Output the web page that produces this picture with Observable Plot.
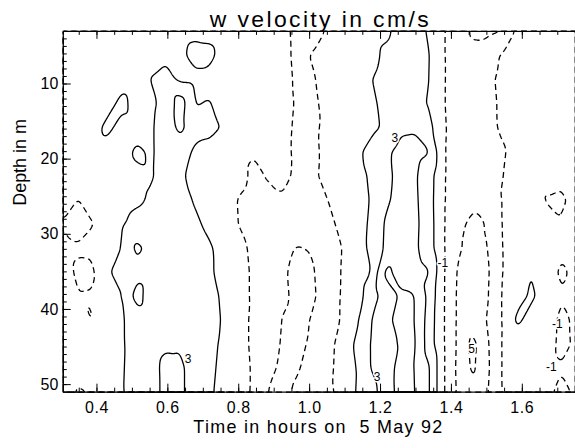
<!DOCTYPE html>
<html>
<head>
<meta charset="utf-8">
<script src="https://cdn.jsdelivr.net/npm/d3@7"></script>
<script src="https://cdn.jsdelivr.net/npm/@observablehq/plot@0.6"></script>
<style>
  html, body { margin: 0; padding: 0; background: #fff; overflow: hidden; }
  svg text { font-family: "Liberation Sans", Arial, Helvetica, sans-serif; }
</style>
</head>
<body>
<div id="chart"></div>
<script>
// ---- chart texts ----
const titleText = "w velocity in cm/s";
const xTitle = "Time in hours on  5 May 92";
const yTitle = "Depth in m";

// ---- axis extents and tick labels ----
const timeExtent = [0.305, 1.75];     // hours
const depthExtent = [3, 51];          // m
const xTickLabels = [0.4, 0.6, 0.8, 1.0, 1.2, 1.4, 1.6];
const yTickLabels = [10, 20, 30, 40, 50];

// ---- contour levels (cm/s) ----
const positiveLevels = [1, 3, 5];
const negativeLevels = [-5, -3, -1];

// ---- w velocity grid (cm/s) ----
// 16 depth rows (top to bottom) x 36 time columns (left to right), evenly spread over the frame
const wRows = [
  [0.2, 0.1, 0.0, 0.1, 0.2, 0.3, 0.4, 0.4, 0.4, 0.6, 0.6, 0.3, 0.1, -1.15, -0.2, -0.6, -1.4, -1.6, -0.9, -0.2, 0.1, 0.3, 0.6, 1.6, 1.7, 0.8, -0.9, -2.0, -3.3, -3.4, -3.05, -0.6, -0.3, -0.2, -0.1, 0.0],
  [0.3, 0.2, 0.1, 0.0, 0.2, 0.3, 0.5, 0.6, 0.6, 1.6, 1.4, 0.3, 0.0, -0.3, -0.3, -0.5, -1.4, -0.95, -0.3, 0.0, 0.2, 0.3, 1.4, 1.9, 1.8, 1.1, -0.9, -2.2, -2.4, -1.8, -0.8, -0.4, -0.2, -0.1, 0.0, 0.1],
  [0.2, 0.1, 0.0, 0.2, 0.4, 0.2, 1.05, 1.7, 0.6, 0.5, 0.5, 0.2, 0.0, -0.2, -0.3, -0.4, -1.3, -1.2, -0.4, 0.0, 0.2, 0.9, 1.7, 1.9, 1.8, 1.05, -0.9, -2.0, -2.3, -1.4, -0.6, -0.3, -0.1, 0.0, 0.1, 0.1],
  [0.1, 0.0, 0.1, 0.3, 1.5, 0.3, 0.7, 1.5, 4.0, 0.9, 1.1, 0.3, -0.1, -1.05, -0.3, -0.4, -1.2, -1.4, -0.5, 0.0, 0.2, 0.6, 1.5, 1.9, 1.6, 0.85, -0.9, -2.1, -2.2, -1.5, -0.7, -0.3, -0.1, 0.0, 0.1, 0.0],
  [0.0, 0.1, 0.2, 1.5, 0.3, 0.4, 0.8, 1.8, 3.6, 1.6, 1.5, 0.8, 0.0, -0.3, -0.4, -0.5, -1.3, -1.3, -0.7, -0.1, 0.2, 0.5, 1.3, 2.7, 2.8, 1.6, -0.8, -2.0, -2.3, -1.6, -0.7, -0.3, -0.1, 0.0, 0.0, 0.1],
  [0.1, 0.2, 0.1, 0.2, 0.3, 1.3, 0.8, 1.7, 1.9, 0.7, 0.4, 1.05, -0.6, -0.9, -0.5, -0.6, -1.3, -1.4, -0.6, 0.0, 0.5, 1.6, 2.6, 3.5, 3.6, 3.1, -0.9, -2.0, -2.3, -1.7, -1.2, -0.4, -0.2, -0.1, 0.0, 0.0],
  [0.0, -0.2, 0.0, 0.1, 0.2, 0.6, 0.85, 1.6, 1.3, 0.4, 0.2, 0.0, -0.5, -1.3, -0.9, -0.5, -1.4, -1.3, -0.6, 0.0, 0.4, 1.2, 2.4, 3.6, 3.3, 1.9, -0.9, -2.0, -2.3, -1.6, -1.05, -0.4, -1.05, -0.3, -0.6, -0.2],
  [-0.2, -1.05, -0.3, 0.0, 0.3, 0.7, 1.2, 1.8, 1.6, 0.85, 0.2, -0.3, -1.1, -1.5, -1.4, -1.2, -1.6, -1.5, -1.05, -0.4, 0.3, 1.05, 2.6, 3.7, 3.4, 1.8, -0.9, -2.1, -2.6, -2.4, -0.9, -0.4, -0.2, -1.1, -1.3, -0.5],
  [-1.15, -1.8, -1.05, -0.2, 0.8, 1.6, 1.8, 2.0, 1.9, 1.3, 0.6, -0.3, -1.05, -1.6, -1.8, -1.7, -1.9, -1.8, -1.4, -0.7, 0.3, 1.2, 3.2, 3.9, 3.5, 1.9, -0.9, -2.6, -3.4, -2.9, -0.9, -0.3, 0.0, -0.4, -0.9, -0.3],
  [-0.5, -0.8, -0.7, 0.2, 1.05, 3.5, 2.4, 2.1, 2.0, 1.8, 1.2, 0.3, -0.6, -1.3, -2.0, -2.6, -3.1, -2.9, -2.0, -1.05, 0.2, 1.3, 3.3, 4.3, 3.4, 1.9, -0.9, -2.9, -3.3, -3.1, -0.95, -0.2, 0.0, -0.9, -0.7, -0.3],
  [-0.3, -1.3, -1.3, 0.8, 1.6, 2.4, 2.2, 1.9, 1.9, 1.7, 1.2, 0.5, -0.5, -1.2, -1.9, -2.8, -3.4, -3.2, -2.1, -0.95, 0.1, 0.9, 5.4, 4.5, 3.8, 3.1, -0.9, -3.3, -3.6, -3.3, -0.95, -0.3, 1.05, -0.2, -1.25, -0.7],
  [-0.2, -0.95, -0.9, 0.3, 0.95, 3.8, 2.0, 1.8, 1.8, 1.9, 1.5, 0.7, -0.5, -1.2, -1.9, -2.7, -3.4, -3.3, -2.2, -0.9, 0.2, 1.8, 4.0, 5.2, 5.1, 2.4, -0.9, -3.4, -3.9, -3.2, -0.85, 0.3, 1.3, 0.2, -0.9, -0.5],
  [0.0, -0.4, -1.1, 0.1, 0.8, 1.9, 2.0, 2.2, 2.1, 1.9, 1.6, 0.8, -0.4, -1.3, -2.1, -3.1, -3.5, -2.9, -1.9, -0.9, 0.6, 2.9, 4.3, 5.8, 5.1, 2.1, -0.9, -3.4, -4.2, -2.9, -0.9, 1.4, 0.3, -0.2, -1.3, -0.8],
  [0.1, 0.0, -0.3, 0.2, 0.8, 1.8, 2.1, 2.7, 2.8, 2.0, 1.4, 0.7, -0.4, -1.3, -2.2, -3.2, -3.3, -2.8, -1.8, -0.3, 1.25, 3.05, 4.6, 5.1, 5.3, 2.0, -0.9, -3.4, -5.6, -3.2, -0.85, 0.2, 0.1, -0.2, -1.4, -0.8],
  [0.2, -0.3, -0.2, 0.1, 0.85, 1.7, 2.2, 3.6, 3.4, 2.0, 1.3, 0.6, -0.3, -1.2, -2.5, -3.4, -3.1, -2.6, -1.7, -0.2, 0.95, 3.05, 4.0, 5.6, 5.05, 3.2, -0.9, -3.5, -5.4, -3.3, -0.85, 0.1, -0.1, -0.4, -0.9, -0.6],
  [-0.2, -1.2, -0.9, -1.1, 0.9, 1.6, 2.1, 3.6, 3.4, 2.0, 1.2, 0.5, -0.4, -1.2, -3.1, -3.3, -2.8, -2.2, -1.5, -0.5, 1.05, 2.3, 3.8, 5.7, 5.1, 3.2, -0.9, -3.4, -4.6, -3.1, -0.9, 0.2, -0.3, -0.6, -1.4, -0.8]
];

// ---- contour labels seen on the picture ----
const labelTimes  = [0.657, 1.190, 1.240, 1.376, 1.457, 1.699, 1.682];
const labelDepths = [46.6, 49.0, 17.2, 33.8, 45.3, 42.0, 47.7];
const labelTexts  = ["3", "3", "3", "-1", "5", "-1", "-1"];

// ---- build ----
const nx = wRows[0].length, ny = wRows.length;
const gridTimes = d3.range(nx).map(j => timeExtent[0] + j * (timeExtent[1] - timeExtent[0]) / (nx - 1));
const gridDepths = d3.range(ny).map(i => depthExtent[0] + i * (depthExtent[1] - depthExtent[0]) / (ny - 1));
const samples = wRows.flatMap((row, i) => row.map((v, j) => ({t: gridTimes[j], d: gridDepths[i], v})));
const labels = labelTexts.map((t, i) => ({t, x: labelTimes[i], y: labelDepths[i]}));

// frame: left 63, top 31, bottom 393; right edge just past the visible page edge
const W = 577, H = 448, mL = 63, mR = 0, mT = 31, mB = 55;
const frameW = W - mL - mR, frameH = H - mT - mB;
const xMinor = d3.range(7, 36).map(i => +(i * 0.05).toFixed(2));
const yMinor = d3.range(4, 51);

const field = {
  x: "t", y: "d", value: "v",
  interpolate: "barycentric", pixelSize: 1, blur: 2,
  fill: "none", stroke: "black", strokeWidth: 1.3
};

const chart = Plot.plot({
  width: W, height: H,
  marginLeft: mL, marginRight: mR, marginTop: mT, marginBottom: mB,
  style: {background: "white", color: "black", fontFamily: "'Liberation Sans', Arial, sans-serif", overflow: "hidden"},
  x: {domain: timeExtent, axis: null},
  y: {domain: depthExtent, reverse: true, axis: null},
  marks: [
    Plot.contour(samples, {...field, thresholds: positiveLevels}),
    Plot.contour(samples, {...field, thresholds: negativeLevels, strokeDasharray: "6,4"}),
    Plot.text(labels, {x: "x", y: "y", text: "t", fontSize: 12, fill: "black", stroke: "white", strokeWidth: 3}),
    // inward ticks
    Plot.tickX(xMinor, {x: d => d, insetTop: frameH - 4, stroke: "black"}),
    Plot.tickX(xMinor, {x: d => d, insetBottom: frameH - 4, stroke: "black"}),
    Plot.tickX(xTickLabels, {x: d => d, insetTop: frameH - 8, stroke: "black"}),
    Plot.tickX(xTickLabels, {x: d => d, insetBottom: frameH - 8, stroke: "black"}),
    Plot.tickY(yMinor, {y: d => d, insetRight: frameW - 4, stroke: "black"}),
    Plot.tickY(yTickLabels, {y: d => d, insetRight: frameW - 8, stroke: "black"}),
    Plot.frame({stroke: "black", strokeWidth: 1.2}),
    // tick labels
    Plot.text(xTickLabels, {x: d => d, frameAnchor: "bottom", dy: 21, text: d => d.toFixed(1), fontSize: 16}),
    Plot.text(yTickLabels, {y: d => d, frameAnchor: "left", dx: -5, textAnchor: "end", text: d => String(d), fontSize: 16}),
    // titles (centred on the visible frame)
    Plot.text([titleText], {frameAnchor: "top", dx: 1, dy: -21, fontSize: 23}),
    Plot.text([xTitle], {frameAnchor: "bottom", dx: -1, dy: 41, fontSize: 18}),
    Plot.text([yTitle], {frameAnchor: "left", dx: -43, dy: -6, rotate: -90, fontSize: 18})
  ]
});
document.getElementById("chart").appendChild(chart);

// wider letter spacing of the original lettering
const spacing = new Map([[titleText, 2.4], [xTitle, 1.3]]);
d3.select(chart).selectAll("text").each(function () {
  const s = spacing.get(this.textContent);
  if (s) this.setAttribute("letter-spacing", s);
});
d3.select(chart).selectAll("text").filter(function () { return xTickLabels.map(d => d.toFixed(1)).includes(this.textContent); })
  .attr("letter-spacing", 0.6);
</script>
</body>
</html>
